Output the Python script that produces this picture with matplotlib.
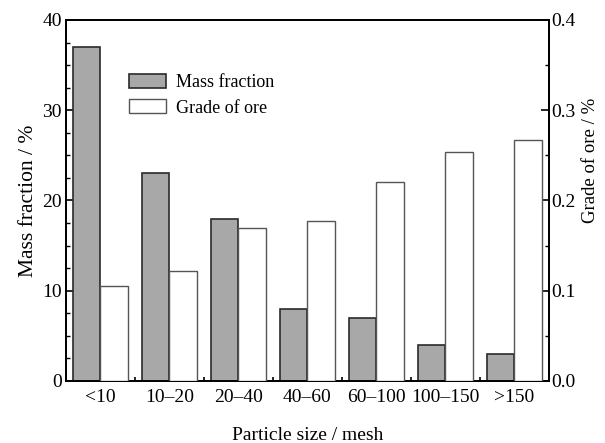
import matplotlib
matplotlib.use("Agg")
import matplotlib.pyplot as plt
import numpy as np
from matplotlib.ticker import MultipleLocator

# data
sizes = ["<10", "10\u201320", "20\u201340", "40\u201360", "60\u2013100", "100\u2013150", ">150"]
mass_fraction = [37, 23, 18, 8, 7, 4, 3]
grade_of_ore = [0.105, 0.122, 0.169, 0.177, 0.221, 0.254, 0.267]

plt.rcParams['font.family'] = ['Liberation Serif', 'DejaVu Serif']
plt.rcParams['font.size'] = 14

fig = plt.figure(figsize=(6.05, 4.43), dpi=100)
ax1 = fig.add_axes([0.109, 0.140, 0.798, 0.815])
ax2 = ax1.twinx()

x = np.arange(len(sizes))
w = 0.4

b1 = ax1.bar(x - w / 2, mass_fraction, width=w, color='#a8a8a8', edgecolor='#2a2a2a', linewidth=1.2, label='Mass fraction', zorder=3)
b2 = ax2.bar(x + w / 2, grade_of_ore, width=w, color='white', edgecolor='#555555', linewidth=1.0, label='Grade of ore', zorder=3)

ax1.set_xlim(-0.5, len(sizes) - 0.5)
ax1.set_ylim(0, 40)
ax2.set_ylim(0, 0.4)

ax1.yaxis.set_major_locator(MultipleLocator(10))
ax1.yaxis.set_minor_locator(MultipleLocator(2.5))
ax2.yaxis.set_major_locator(MultipleLocator(0.1))
ax2.yaxis.set_minor_locator(MultipleLocator(0.05))
ax2.yaxis.set_major_formatter(matplotlib.ticker.FormatStrFormatter('%.1f'))

ax1.set_xticks(x)
ax1.set_xticklabels(sizes)
ax1.set_xticks(x[:-1] + 0.5, minor=True)
ax1.tick_params(axis='x', which='major', length=0, pad=6)
ax1.tick_params(axis='x', which='minor', direction='in', length=3, width=1.2, top=False)

ax1.tick_params(axis='y', which='major', direction='in', length=6, width=1.2, right=False, pad=3)
ax1.tick_params(axis='y', which='minor', direction='in', length=3, width=1.0, right=False)
ax2.tick_params(axis='y', which='major', direction='in', length=6, width=1.2, pad=2)
ax2.tick_params(axis='y', which='minor', direction='in', length=3, width=1.0)

for a in (ax1, ax2):
    for s in a.spines.values():
        s.set_linewidth(1.3)

ax1.set_xlabel('Particle size / mesh', labelpad=15)
ax1.set_ylabel('Mass fraction / %', fontsize=15.5)
ax1.yaxis.set_label_coords(-0.058, 0.5)
ax2.set_ylabel('Grade of ore / %', fontsize=13.5)
ax2.yaxis.set_label_coords(1.069, 0.61)

ax1.legend([b1, b2], ['Mass fraction', 'Grade of ore'], loc='upper left',
           bbox_to_anchor=(0.111, 0.875), frameon=False, borderpad=0, fontsize=13,
           handlelength=2.1, handleheight=0.8, handletextpad=0.5, labelspacing=0.45)

fig.savefig('out.png', dpi=100)
